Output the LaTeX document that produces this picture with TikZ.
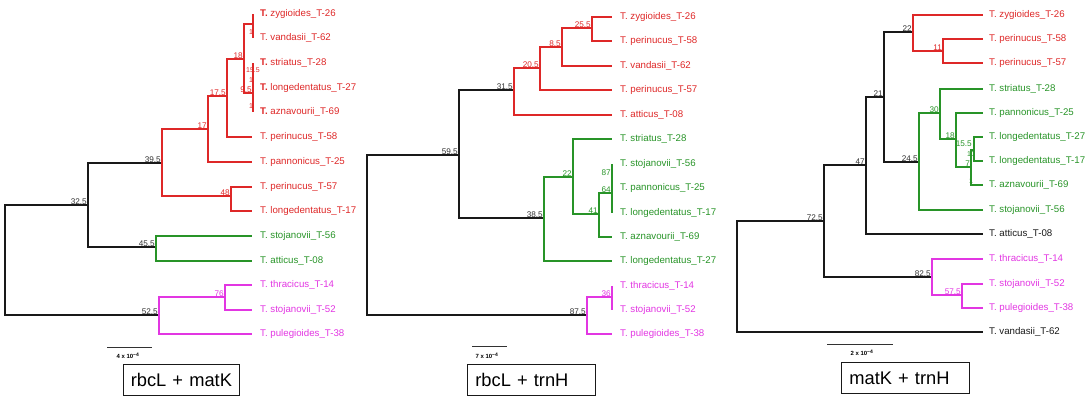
\documentclass[tikz,border=0pt]{standalone}
\usepackage{fontspec}
\setmainfont{Liberation Sans}
\usetikzlibrary{calc}
\definecolor{cred}{RGB}{222,40,40}
\definecolor{cgreen}{RGB}{40,148,40}
\definecolor{cmag}{RGB}{226,54,226}
\definecolor{cblk}{RGB}{25,25,25}
\definecolor{clab}{RGB}{50,50,50}
\tikzset{
  br/.style={line width=1.9pt, line join=miter},
  leaflab/.style={anchor=west, inner sep=0pt, font=\fontsize{9.7}{10}\selectfont},
  nlab/.style={anchor=south east, inner xsep=1pt, inner ysep=0.6pt, font=\fontsize{8.2}{9}\selectfont},
  tinylab/.style={inner sep=0pt, font=\fontsize{7}{8}\selectfont},
  scalebar/.style={line width=0.9pt, draw=clab},
  scaletxt/.style={inner sep=0pt, font=\fontsize{6}{7}\selectfont\bfseries},
  titlebox/.style={draw=cblk, line width=0.8pt, anchor=north west, minimum height=31pt, inner xsep=4pt, font=\fontsize{18.3}{20}\selectfont},
}
\newcommand\brn[3]{\draw[br,#1] (#2) |- (#3);}
\begin{document}
\begin{tikzpicture}[x=1pt,y=-1pt]
\useasboundingbox (0,0) rectangle (1090,401);

% ================= Tree 1: rbcL + matK =================
\coordinate (a0) at (5,260);
\coordinate (a325) at (88,205);
\coordinate (a395) at (162,163);
\coordinate (a455) at (156,247);
\coordinate (a525) at (159,315);
\coordinate (a76) at (225,297);
\coordinate (a17) at (208,129);
\coordinate (a48) at (231,196);
\coordinate (a175) at (227,96);
\coordinate (a18) at (244,59);
\coordinate (aA) at (253,24);
\coordinate (aB) at (253,93);
\coordinate (azyg) at (253,14);
\coordinate (avan) at (253,38);
\coordinate (astr) at (253,63);
\coordinate (al27) at (253,88);
\coordinate (aazn) at (253,112);
\coordinate (ap58) at (252,137);
\coordinate (apan) at (252,162);
\coordinate (ap57) at (252,187);
\coordinate (al17) at (252,211);
\coordinate (as56) at (252,236);
\coordinate (aatt) at (252,261);
\coordinate (athr) at (252,285);
\coordinate (as52) at (252,310);
\coordinate (apul) at (252,334);

\brn{cblk}{a0}{a325}
\brn{cblk}{a0}{a525}
\brn{cblk}{a325}{a395}
\brn{cblk}{a325}{a455}
\brn{cred}{a395}{a17}
\brn{cred}{a395}{a48}
\brn{cred}{a17}{a175}
\brn{cred}{a17}{apan}
\brn{cred}{a175}{a18}
\brn{cred}{a175}{ap58}
\brn{cred}{a18}{aA}
\brn{cred}{a18}{aB}
\brn{cred}{aA}{azyg}
\brn{cred}{aA}{avan}
\brn{cred}{aB}{astr}
\brn{cred}{aB}{al27}
\brn{cred}{aB}{aazn}
\brn{cred}{a48}{ap57}
\brn{cred}{a48}{al17}
\brn{cgreen}{a455}{as56}
\brn{cgreen}{a455}{aatt}
\brn{cmag}{a525}{a76}
\brn{cmag}{a525}{apul}
\brn{cmag}{a76}{athr}
\brn{cmag}{a76}{as52}

\node[nlab,text=clab] (la325) at (a325) {32.5};
\node[nlab,text=clab] (la395) at (a395) {39.5};
\node[nlab,text=clab] (la455) at (a455) {45.5};
\node[nlab,text=clab] (la525) at (a525) {52.5};
\node[nlab,text=cred] (la17) at (a17) {17};
\node[nlab,text=cred] (la175) at (a175) {17.5};
\node[nlab,text=cred] (la18) at (a18) {18};
\node[nlab,text=cred] (la48) at (a48) {48};
\node[nlab,text=cmag] (la76) at (a76) {76};
\node[nlab,text=cred] (la95) at (aB) {9.5};
\node[tinylab,text=cred] (laA) at (251,32) {1};
\node[tinylab,text=cred] (la155) at (253,70) {15.5};
\node[tinylab,text=cred] (laB1) at (251,80) {1};
\node[tinylab,text=cred] (laB2) at (251,106) {1};

\node[leaflab,text=cred] (tazyg) at (260,14) {\textbf{T.} zygioides\_T-26};
\node[leaflab,text=cred] (tavan) at (260,38) {T. vandasii\_T-62};
\node[leaflab,text=cred] (tastr) at (260,63) {\textbf{T.} striatus\_T-28};
\node[leaflab,text=cred] (tal27) at (260,88) {\textbf{T.} longedentatus\_T-27};
\node[leaflab,text=cred] (taazn) at (260,112) {\textbf{T.} aznavourii\_T-69};
\node[leaflab,text=cred] (tap58) at (260,137) {T. perinucus\_T-58};
\node[leaflab,text=cred] (tapan) at (260,162) {T. pannonicus\_T-25};
\node[leaflab,text=cred] (tap57) at (260,187) {T. perinucus\_T-57};
\node[leaflab,text=cred] (tal17) at (260,211) {T. longedentatus\_T-17};
\node[leaflab,text=cgreen] (tas56) at (260,236) {T. stojanovii\_T-56};
\node[leaflab,text=cgreen] (taatt) at (260,261) {T. atticus\_T-08};
\node[leaflab,text=cmag] (tathr) at (260,285) {T. thracicus\_T-14};
\node[leaflab,text=cmag] (tas52) at (260,310) {T. stojanovii\_T-52};
\node[leaflab,text=cmag] (tapul) at (260,334) {T. pulegioides\_T-38};

\coordinate (sa1) at (107,347);
\coordinate (sa2) at (152,347);
\draw[scalebar] (sa1) -- (sa2);
\node[scaletxt] (sat) at (128,356) {4 x 10\textsuperscript{−4}};
\node[titlebox, minimum width=116pt, text width=108pt, align=center] (boxa) at (123,364) {rbcL + matK};

% ================= Tree 2: rbcL + trnH =================
\coordinate (b0) at (367,235);
\coordinate (b595) at (459,155);
\coordinate (b875) at (587,315);
\coordinate (b315) at (514,90);
\coordinate (b385) at (544,218);
\coordinate (b205) at (540,68);
\coordinate (b85) at (562,47);
\coordinate (b255) at (592,28);
\coordinate (b22) at (573,177);
\coordinate (b41) at (599,214);
\coordinate (b64) at (612,193);
\coordinate (b87) at (612,176);
\coordinate (b36) at (612,297);
\coordinate (bzyg) at (612,17);
\coordinate (bp58) at (612,41);
\coordinate (bvan) at (612,66);
\coordinate (bp57) at (612,90);
\coordinate (batt) at (612,115);
\coordinate (bstr) at (612,139);
\coordinate (bs56) at (612,164);
\coordinate (bpan) at (612,188);
\coordinate (bl17) at (612,213);
\coordinate (bazn) at (612,237);
\coordinate (bl27) at (612,261);
\coordinate (bthr) at (612,286);
\coordinate (bs52) at (612,310);
\coordinate (bpul) at (612,334);

\brn{cblk}{b0}{b595}
\brn{cblk}{b0}{b875}
\brn{cblk}{b595}{b315}
\brn{cblk}{b595}{b385}
\brn{cred}{b315}{b205}
\brn{cred}{b315}{batt}
\brn{cred}{b205}{b85}
\brn{cred}{b205}{bp57}
\brn{cred}{b85}{b255}
\brn{cred}{b85}{bvan}
\brn{cred}{b255}{bzyg}
\brn{cred}{b255}{bp58}
\brn{cgreen}{b385}{b22}
\brn{cgreen}{b385}{bl27}
\brn{cgreen}{b22}{bstr}
\brn{cgreen}{b22}{b41}
\brn{cgreen}{b41}{b64}
\brn{cgreen}{b41}{bazn}
\brn{cgreen}{b64}{b87}
\brn{cgreen}{b64}{bl17}
\brn{cgreen}{b87}{bs56}
\brn{cgreen}{b87}{bpan}
\brn{cmag}{b875}{b36}
\brn{cmag}{b875}{bpul}
\brn{cmag}{b36}{bthr}
\brn{cmag}{b36}{bs52}

\node[nlab,text=clab] (lb595) at (b595) {59.5};
\node[nlab,text=clab] (lb315) at (b315) {31.5};
\node[nlab,text=clab] (lb385) at (b385) {38.5};
\node[nlab,text=clab] (lb875) at (b875) {87.5};
\node[nlab,text=cred] (lb205) at (b205) {20.5};
\node[nlab,text=cred] (lb85) at (b85) {8.5};
\node[nlab,text=cred] (lb255) at (b255) {25.5};
\node[nlab,text=cgreen] (lb22) at (b22) {22};
\node[nlab,text=cgreen] (lb41) at (b41) {41};
\node[nlab,text=cgreen] (lb64) at (b64) {64};
\node[nlab,text=cgreen] (lb87) at (b87) {87};
\node[nlab,text=cmag] (lb36) at (b36) {36};

\node[leaflab,text=cred] (tbzyg) at (620,17) {T. zygioides\_T-26};
\node[leaflab,text=cred] (tbp58) at (620,41) {T. perinucus\_T-58};
\node[leaflab,text=cred] (tbvan) at (620,66) {T. vandasii\_T-62};
\node[leaflab,text=cred] (tbp57) at (620,90) {T. perinucus\_T-57};
\node[leaflab,text=cred] (tbatt) at (620,115) {T. atticus\_T-08};
\node[leaflab,text=cgreen] (tbstr) at (620,139) {T. striatus\_T-28};
\node[leaflab,text=cgreen] (tbs56) at (620,164) {T. stojanovii\_T-56};
\node[leaflab,text=cgreen] (tbpan) at (620,188) {T. pannonicus\_T-25};
\node[leaflab,text=cgreen] (tbl17) at (620,213) {T. longedentatus\_T-17};
\node[leaflab,text=cgreen] (tbazn) at (620,237) {T. aznavourii\_T-69};
\node[leaflab,text=cgreen] (tbl27) at (620,261) {T. longedentatus\_T-27};
\node[leaflab,text=cmag] (tbthr) at (620,286) {T. thracicus\_T-14};
\node[leaflab,text=cmag] (tbs52) at (620,310) {T. stojanovii\_T-52};
\node[leaflab,text=cmag] (tbpul) at (620,334) {T. pulegioides\_T-38};

\coordinate (sb1) at (472,346);
\coordinate (sb2) at (507,346);
\draw[scalebar] (sb1) -- (sb2);
\node[scaletxt] (sbt) at (487,356) {7 x 10\textsuperscript{−4}};
\node[titlebox, minimum width=128pt, text width=112pt, align=left, inner xsep=8pt] (boxb) at (467,364) {rbcL + trnH};

% ================= Tree 3: matK + trnH =================
\coordinate (c0) at (737,280);
\coordinate (c725) at (824,221);
\coordinate (c47) at (866,165);
\coordinate (c825) at (932,277);
\coordinate (c21) at (884,97);
\coordinate (c22) at (913,32);
\coordinate (c11) at (943,51);
\coordinate (c245) at (919,162);
\coordinate (c30) at (940,113);
\coordinate (c18) at (956,139);
\coordinate (c7) at (971,167);
\coordinate (c155) at (974,150);
\coordinate (c575) at (962,295);
\coordinate (czyg) at (983,15);
\coordinate (cp58) at (983,39);
\coordinate (cp57) at (983,63);
\coordinate (cstr) at (983,89);
\coordinate (cpan) at (983,113);
\coordinate (cl27) at (983,137);
\coordinate (cl17) at (983,161);
\coordinate (cazn) at (983,185);
\coordinate (cs56) at (983,210);
\coordinate (catt) at (983,234);
\coordinate (cthr) at (983,259);
\coordinate (cs52) at (983,284);
\coordinate (cpul) at (983,308);
\coordinate (cvan) at (983,332);

\brn{cblk}{c0}{c725}
\brn{cblk}{c0}{cvan}
\brn{cblk}{c725}{c47}
\brn{cblk}{c725}{c825}
\brn{cblk}{c47}{c21}
\brn{cblk}{c47}{catt}
\brn{cblk}{c21}{c22}
\brn{cblk}{c21}{c245}
\brn{cred}{c22}{czyg}
\brn{cred}{c22}{c11}
\brn{cred}{c11}{cp58}
\brn{cred}{c11}{cp57}
\brn{cgreen}{c245}{c30}
\brn{cgreen}{c245}{cs56}
\brn{cgreen}{c30}{cstr}
\brn{cgreen}{c30}{c18}
\brn{cgreen}{c18}{cpan}
\brn{cgreen}{c18}{c7}
\brn{cgreen}{c7}{c155}
\brn{cgreen}{c7}{cazn}
\brn{cgreen}{c155}{cl27}
\brn{cgreen}{c155}{cl17}
\brn{cmag}{c825}{cthr}
\brn{cmag}{c825}{c575}
\brn{cmag}{c575}{cs52}
\brn{cmag}{c575}{cpul}

\node[nlab,text=clab] (lc725) at (c725) {72.5};
\node[nlab,text=clab] (lc47) at (c47) {47};
\node[nlab,text=clab] (lc21) at (c21) {21};
\node[nlab,text=clab] (lc22) at (c22) {22};
\node[nlab,text=clab] (lc245) at (c245) {24.5};
\node[nlab,text=clab] (lc825) at (c825) {82.5};
\node[nlab,text=cred] (lc11) at (c11) {11};
\node[nlab,text=cgreen] (lc30) at (c30) {30};
\node[nlab,text=cgreen] (lc18) at (c18) {18};
\node[nlab,text=cgreen] (lc7) at (c7) {7};
\node[nlab,text=cgreen] (lc155) at ($(c155)+(-1,-3)$) {15.5};
\node[nlab,text=cmag] (lc575) at (c575) {57.5};
\node[tinylab,text=cgreen] (lc10) at (971,154) {10};
\node[tinylab,text=cgreen] (lc1) at (971,181) {1};

\node[leaflab,text=cred] (tczyg) at (989,15) {T. zygioides\_T-26};
\node[leaflab,text=cred] (tcp58) at (989,39) {T. perinucus\_T-58};
\node[leaflab,text=cred] (tcp57) at (989,63) {T. perinucus\_T-57};
\node[leaflab,text=cgreen] (tcstr) at (989,89) {T. striatus\_T-28};
\node[leaflab,text=cgreen] (tcpan) at (989,113) {T. pannonicus\_T-25};
\node[leaflab,text=cgreen] (tcl27) at (989,137) {T. longedentatus\_T-27};
\node[leaflab,text=cgreen] (tcl17) at (989,161) {T. longedentatus\_T-17};
\node[leaflab,text=cgreen] (tcazn) at (989,185) {T. aznavourii\_T-69};
\node[leaflab,text=cgreen] (tcs56) at (989,210) {T. stojanovii\_T-56};
\node[leaflab,text=cblk] (tcatt) at (989,234) {T. atticus\_T-08};
\node[leaflab,text=cmag] (tcthr) at (989,259) {T. thracicus\_T-14};
\node[leaflab,text=cmag] (tcs52) at (989,284) {T. stojanovii\_T-52};
\node[leaflab,text=cmag] (tcpul) at (989,308) {T. pulegioides\_T-38};
\node[leaflab,text=cblk] (tcvan) at (989,332) {T. vandasii\_T-62};

\coordinate (sc1) at (827,344);
\coordinate (sc2) at (893,344);
\draw[scalebar] (sc1) -- (sc2);
\node[scaletxt] (sct) at (862,353) {2 x 10\textsuperscript{−4}};
\node[titlebox, minimum width=128pt, text width=112pt, align=left, inner xsep=8pt] (boxc) at (841,362) {matK + trnH};
\end{tikzpicture}
\end{document}
